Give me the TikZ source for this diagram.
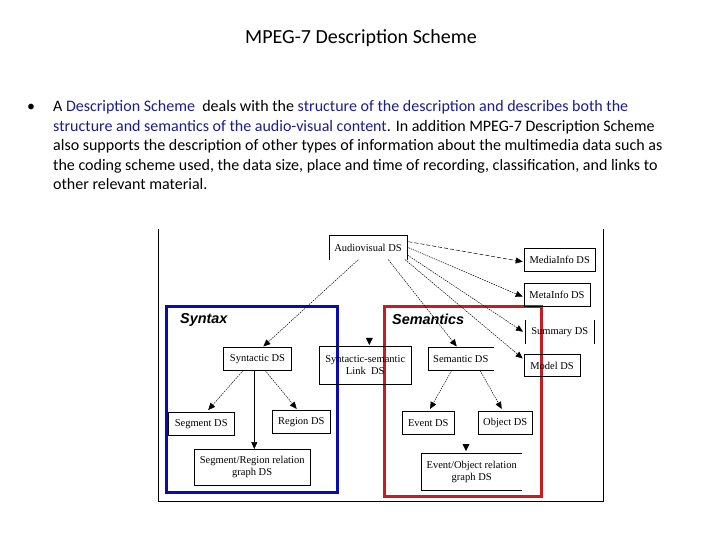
\documentclass[tikz,border=0pt]{standalone}
\usepackage{fontspec}
\setmainfont{Carlito}
\newfontfamily\dsfont{Liberation Serif}
\newfontfamily\lblfont{Liberation Sans}
\usetikzlibrary{arrows.meta}
\definecolor{txtblue}{RGB}{28,28,140}
\definecolor{synblue}{RGB}{10,10,175}
\definecolor{semred}{RGB}{200,28,32}
\begin{document}
\begin{tikzpicture}[x=1pt,y=-1pt,
  dsbox/.style={draw,line width=0.6pt,inner sep=0pt,align=center,font=\dsfont\fontsize{10.5}{12}\selectfont},
  openbox/.style={dsbox,draw=none},
  dotarrow/.style={line width=0.5pt,dash pattern=on 1.5pt off 1pt,-{Triangle[length=7pt,width=6pt]}},
  solidarrow/.style={line width=0.6pt,-{Triangle[length=7pt,width=6pt]}},
  bodyline/.style={anchor=base west,inner sep=0pt,font=\fontsize{16}{19}\selectfont},
  grouplabel/.style={anchor=west,inner sep=0pt,font=\lblfont\bfseries\itshape\fontsize{14.4}{16}\selectfont},
  tip/.style={fill=black}
]
\useasboundingbox (0,0) rectangle (720,540);
% title and text
\node[inner sep=0pt,anchor=base,font=\fontsize{20}{24}\selectfont] (title) at (361,44) {MPEG-7 Description Scheme};
\node[bodyline,anchor=base west] (bul) at (27,112) {\textbullet};
\node[bodyline] (l1) at (53,112) {A \textcolor{txtblue}{Description Scheme}\ \ deals with the \textcolor{txtblue}{structure of the description and describes both the}};
\node[bodyline] (l2) at (53,131.5) {\textcolor{txtblue}{structure and semantics of the audio-visual content}. In addition MPEG-7 Description Scheme};
\node[bodyline] (l3) at (53,151) {also supports the description of other types of information about the multimedia data such as};
\node[bodyline] (l4) at (53,170.5) {the coding scheme used, the data size, place and time of recording, classification, and links to};
\node[bodyline] (l5) at (53,190) {other relevant material.};
% outer frame
\coordinate (ftl) at (158.3,229);
\coordinate (ftr) at (603.3,229);
\coordinate (fbl) at (158.3,501.7);
\coordinate (fbr) at (603.3,501.7);
\draw[line width=0.8pt] (ftl) -- (fbl) -- (fbr) -- (ftr);
% group frames
\draw[synblue,line width=3pt] (166.7,306) rectangle (337.7,492.7);
\draw[semred,line width=3pt] (384.3,306) rectangle (541.7,496);
\node[grouplabel] (synlbl) at (180,319.5) {Syntax};
\node[grouplabel] (semlbl) at (392,319.5) {Semantics};
% boxes
\node[openbox,minimum width=77.4pt,minimum height=23.3pt] (av) at (368,247.7) {Audiovisual DS};
\draw[line width=0.6pt] (av.south west) -- (av.north west) -- (av.north east) -- (av.south east);
\node[dsbox,minimum width=71.3pt,minimum height=22.7pt] (media) at (559.7,259.7) {MediaInfo DS};
\node[dsbox,minimum width=66pt,minimum height=22.7pt] (meta) at (557,294.7) {MetaInfo DS};
\node[openbox,minimum width=69pt,minimum height=23.3pt] (sum) at (559.8,331.7) {Summary DS};
\draw[line width=0.6pt] (sum.north west) -- (sum.south west);
\draw[line width=0.6pt] (sum.north east) -- (sum.south east);
\node[dsbox,minimum width=56pt,minimum height=22.4pt] (model) at (552,365.5) {Model DS};
\node[dsbox,minimum width=68.4pt,minimum height=22.3pt] (syn) at (257.5,358.9) {Syntactic DS};
\node[dsbox,minimum width=91.7pt,minimum height=37.6pt] (link) at (365.2,365.5) {Syntactic-semantic\\Link\ \ DS};
\node[openbox,minimum width=65pt,minimum height=22.3pt] (sem) at (460.8,358.9) {Semantic DS};
\draw[line width=0.6pt] (sem.north east) -- (sem.north west) -- (sem.south west) -- (sem.south east);
\node[dsbox,minimum width=65.7pt,minimum height=22.7pt] (seg) at (201.2,423.7) {Segment DS};
\node[dsbox,minimum width=58pt,minimum height=22.6pt] (reg) at (301.3,422) {Region DS};
\node[dsbox,minimum width=115.7pt,minimum height=35.7pt] (sgraph) at (252.2,467.2) {Segment/Region relation\\graph DS};
\node[dsbox,minimum width=52pt,minimum height=22.3pt] (ev) at (428.3,422.9) {Event DS};
\node[dsbox,minimum width=53.7pt,minimum height=22.3pt] (ob) at (505.2,422.9) {Object DS};
\node[openbox,minimum width=100pt,minimum height=36.7pt] (eo) at (471.7,471.7) {Event/Object relation\\graph DS};
\draw[line width=0.6pt] (eo.north east) -- (eo.north west) -- (eo.south west) -- (eo.south east);
% connectors
\draw[dotarrow] ([xshift=-9.7pt]av.south) -- ([xshift=5.8pt,yshift=1pt]syn.north);
\draw[dotarrow] ([xshift=20.3pt]av.south) -- ([xshift=-4.1pt,yshift=1pt]sem.north);
\draw[line width=0.5pt,dash pattern=on 4pt off 2pt,-{Triangle[length=7pt,width=6pt]}] ([xshift=1.5pt,yshift=6pt]av.east) -- ([xshift=-1pt,yshift=-2pt]media.west);
\draw[dotarrow] ([xshift=1.5pt]av.east) -- ([xshift=-1pt,yshift=-2pt]meta.west);
\draw[dotarrow] ([xshift=0.5pt,yshift=-7.4pt]av.east) -- ([xshift=-2pt]sum.west);
\draw[dotarrow] ([xshift=-2pt]av.south east) -- ([xshift=-1pt,yshift=7pt]model.west);
\draw[dotarrow] ([xshift=-14.2pt]syn.south) -- ([xshift=7pt,yshift=2pt]seg.north);
\draw[solidarrow] ([xshift=-3.2pt]syn.south) -- ([xshift=2.1pt]sgraph.north);
\draw[dotarrow] ([xshift=7.5pt]syn.south) -- ([xshift=-4.6pt,yshift=1.5pt]reg.north);
\draw[dotarrow] ([xshift=-9.1pt]sem.south) -- ([xshift=1.7pt,yshift=2.5pt]ev.north);
\draw[dotarrow] ([xshift=19.2pt]sem.south) -- ([xshift=-3.5pt,yshift=2.5pt]ob.north);
% stand-alone arrowheads
\coordinate (linktip) at ([xshift=4.1pt,yshift=1.5pt]link.north);
\fill[tip] (linktip) -- ++(-3.5,-7) -- ++(7,0) -- cycle;
\coordinate (eotip) at ([xshift=-5.7pt,yshift=2pt]eo.north);
\fill[tip] (eotip) -- ++(-3.5,-7) -- ++(7,0) -- cycle;
\end{tikzpicture}
\end{document}
